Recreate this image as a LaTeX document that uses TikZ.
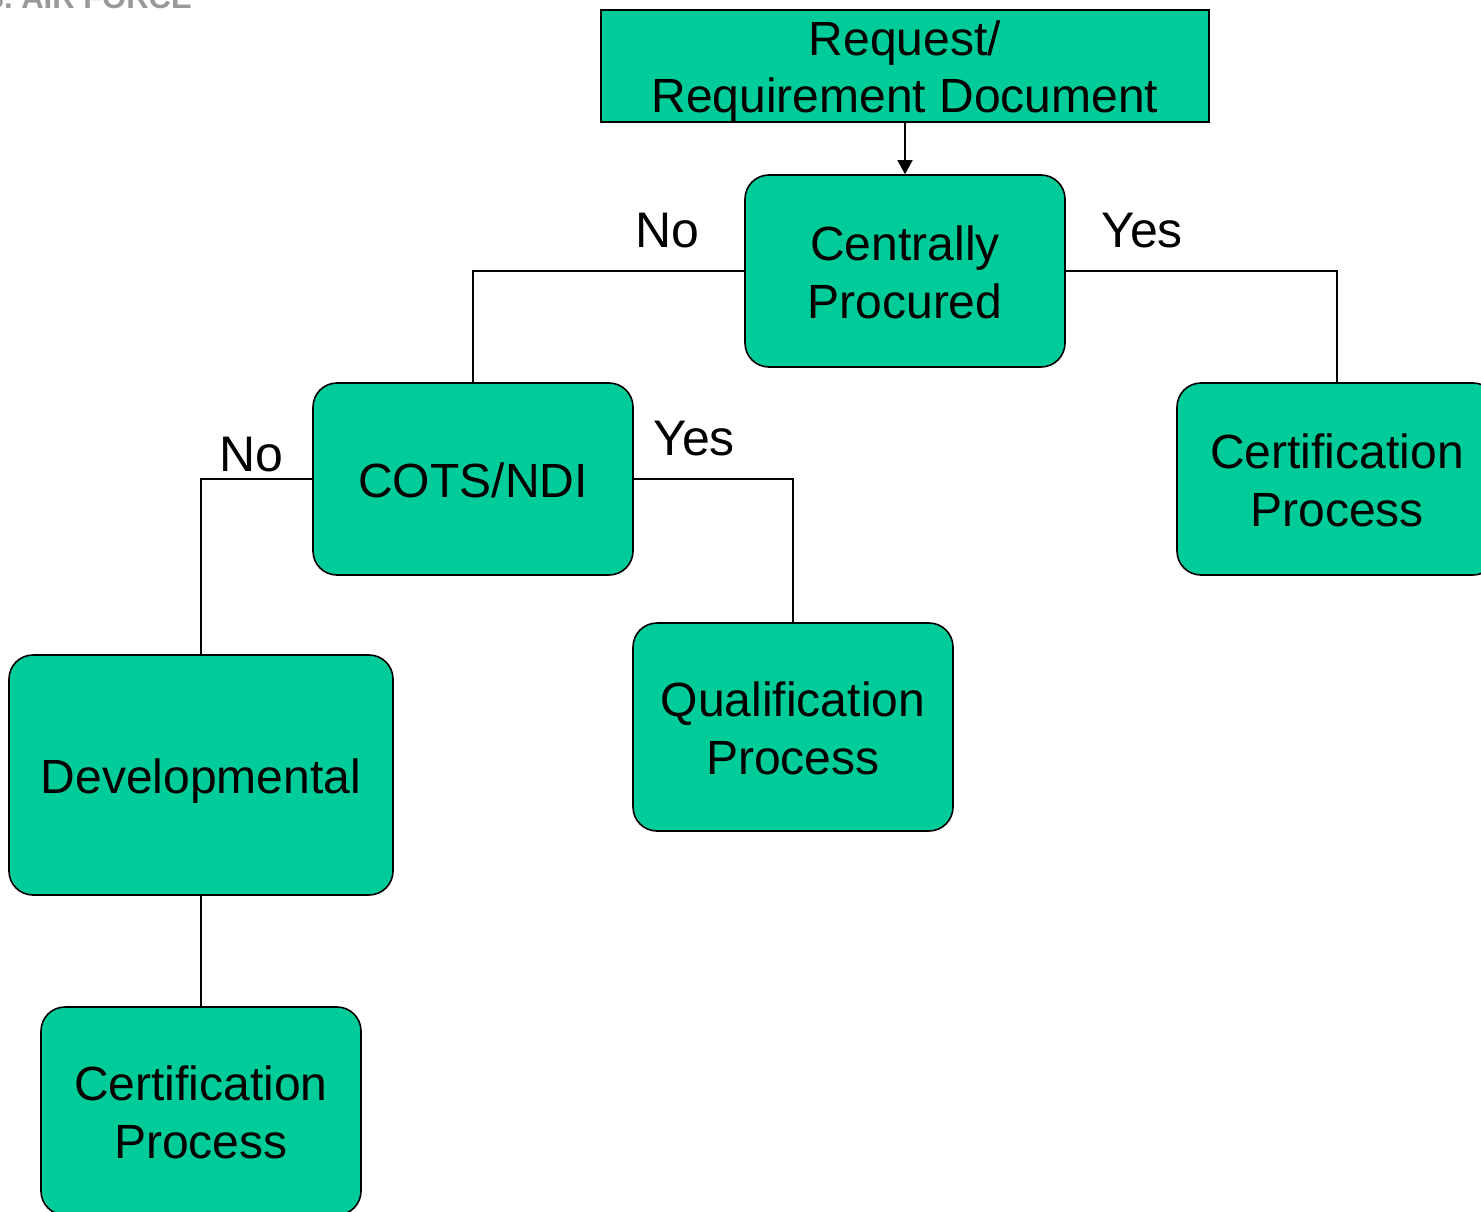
\documentclass[tikz,border=0pt]{standalone}
\usepackage{fontspec}
\setmainfont{Liberation Sans}
\usetikzlibrary{arrows.meta}
\definecolor{boxgreen}{RGB}{0,204,153}
\newcommand{\lowered}[2]{\raisebox{-#1pt}[\height][\depth]{#2}}
\tikzset{
  x=1pt,y=1pt,
  box/.style={draw=black,line width=1.6pt,fill=boxgreen,rounded corners=24pt,inner sep=0pt,align=center,minimum width=320pt,
    font=\fontsize{48}{58}\selectfont},
  flatbox/.style={box,rounded corners=0pt},
  lbl/.style={inner sep=0pt,font=\fontsize{50}{58}\selectfont},
  link/.style={draw=black,line width=1.6pt},
  logo/.style={inner sep=0pt,text=black!40,font=\fontsize{31}{31}\selectfont\bfseries}
}
\begin{document}
\begin{tikzpicture}
\useasboundingbox (0,0) rectangle (1481,-1212);
\fill[white] (0,0) rectangle (1481,-1212);
\begin{scope}
\clip (0,0) rectangle (1481,-1212);
\node[logo,anchor=base east] (logo) at (192,-9) {U.S. AIR FORCE};
\node[flatbox,minimum width=608pt,minimum height=112pt] (req) at (905,-66) {\lowered{6}{Request/}\\\lowered{5}{Requirement Document}};
\node[box,minimum height=192pt] (cp) at (905,-271) {\lowered{1}{Centrally}\\\lowered{1}{Procured}};
\node[box,minimum height=192pt] (cots) at (473,-479) {\lowered{1}{COTS/NDI}};
\node[box,minimum height=192pt] (cert1) at (1337,-479) {\lowered{1}{Certification}\\\lowered{1}{Process}};
\node[box,minimum height=208pt] (qual) at (793,-727) {\lowered{1}{Qualification}\\\lowered{1}{Process}};
\node[box,minimum width=384pt,minimum height=240pt] (dev) at (201,-775) {\lowered{6}{Developmental}};
\node[box,minimum height=208pt] (cert2) at (201,-1111) {\lowered{1}{Certification}\\\lowered{1}{Process}};
\draw[link,-{Triangle[length=14pt,width=15pt]}] (req) -- (cp);
\draw[link] (cp.west) -| (cots.north);
\draw[link] (cp.east) -| (cert1.north);
\draw[link] (cots.east) -| (qual.north);
\draw[link] (cots.west) -| (dev.north);
\draw[link] (dev) -- (cert2);
\node[lbl] (n1) at (667,-231) {No};
\node[lbl] (y1) at (1142,-231) {Yes};
\node[lbl] (y2) at (694,-439) {Yes};
\node[lbl] (n2) at (251,-455) {No};
\end{scope}
\end{tikzpicture}
\end{document}
